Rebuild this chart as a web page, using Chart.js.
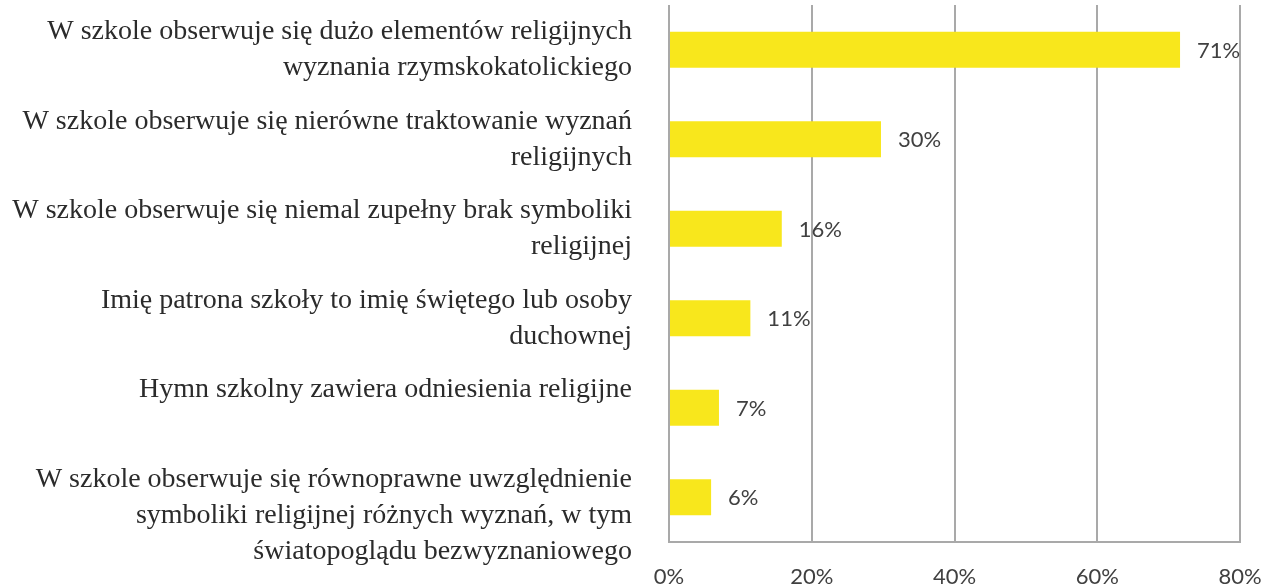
<!DOCTYPE html>
<html>
<head>
<meta charset="utf-8">
<script src="https://cdn.jsdelivr.net/npm/chart.js@4/dist/chart.umd.min.js"></script>
<style>
  html, body { margin: 0; padding: 0; background: #fff; }
  #wrap { width: 1266px; height: 585px; position: relative; }
</style>
</head>
<body>
<div id="wrap"><canvas id="chart"></canvas></div>
<script>
// categories (multi-line, blank lines keep Excel-like vertical placement)
const categories = [
  ['W szkole obserwuje się dużo elementów religijnych', 'wyznania rzymskokatolickiego'],
  ['W szkole obserwuje się nierówne traktowanie wyznań', 'religijnych'],
  ['W szkole obserwuje się niemal zupełny brak symboliki', 'religijnej'],
  ['Imię patrona szkoły to imię świętego lub osoby', 'duchownej'],
  ['Hymn szkolny zawiera odniesienia religijne', ''],
  ['', 'W szkole obserwuje się równoprawne uwzględnienie', 'symboliki religijnej różnych wyznań, w tym', 'światopoglądu bezwyznaniowego']
];
const values = [71.6, 29.7, 15.8, 11.4, 7.0, 5.9];
const valueLabels = ['71%', '30%', '16%', '11%', '7%', '6%'];
const xTicks = [0, 20, 40, 60, 80];

const BAR = '#F8E71C';
const GRID = '#A9A9A9';

// value labels to the right of the bars
const barLabels = {
  id: 'barLabels',
  afterDatasetsDraw(chart) {
    const ctx = chart.ctx;
    const meta = chart.getDatasetMeta(0);
    ctx.save();
    ctx.font = '22px Lato';
    ctx.fillStyle = '#404040';
    ctx.textAlign = 'left';
    ctx.textBaseline = 'middle';
    meta.data.forEach((bar, i) => {
      ctx.fillText(valueLabels[i], bar.x + 17, bar.y + 1);
    });
    ctx.restore();
  }
};

new Chart(document.getElementById('chart'), {
  type: 'bar',
  data: {
    labels: categories,
    datasets: [{
      data: values,
      backgroundColor: BAR,
      borderWidth: 0,
      categoryPercentage: 0.8,
      barPercentage: 0.5
    }]
  },
  options: {
    indexAxis: 'y',
    responsive: true,
    maintainAspectRatio: false,
    animation: false,
    layout: { padding: { top: 5, right: 26, left: 0, bottom: 0 } },
    plugins: { legend: { display: false }, tooltip: { enabled: false } },
    scales: {
      x: {
        min: 0, max: 80,
        afterBuildTicks: s => { s.ticks = xTicks.map(v => ({ value: v })); },
        grid: { color: GRID, lineWidth: 2, drawTicks: false },
        border: { color: GRID, width: 2 },
        ticks: {
          padding: 22,
          color: '#404040',
          font: { family: 'Lato', size: 22 },
          callback: v => v + '%'
        },
        afterFit: s => { s.height = 43; s.paddingLeft = 0; s.paddingRight = 0; }
      },
      y: {
        grid: { display: false, drawTicks: false },
        border: { display: false },
        ticks: {
          autoSkip: false,
          padding: 37,
          color: '#2b2b2b',
          font: { family: 'Liberation Serif', size: 28, lineHeight: 36 / 28 }
        },
        afterFit: s => { s.width = 669; s.paddingTop = 0; s.paddingBottom = 0; }
      }
    }
  },
  plugins: [barLabels]
});
</script>
</body>
</html>
